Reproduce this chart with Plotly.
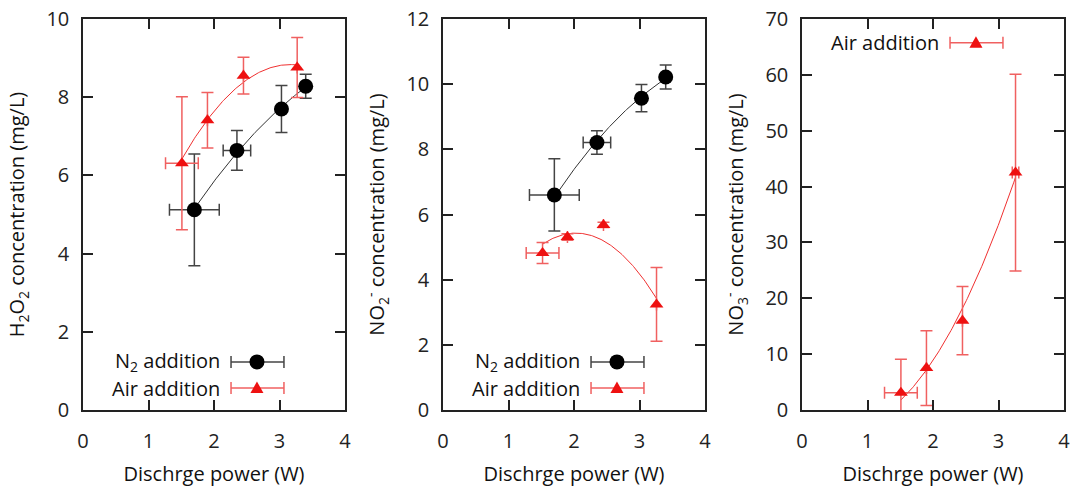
import numpy as np
import plotly.graph_objects as go

# ---------------- data ----------------
# Panel 1: H2O2
h2o2_n2_x = [1.70, 2.35, 3.03, 3.40]
h2o2_n2_xerr = [0.38, 0.21, 0.0, 0.0]
h2o2_n2_y = [5.12, 6.64, 7.70, 8.28]
h2o2_n2_yerr = [1.43, 0.51, 0.60, 0.31]

h2o2_air_x = [1.51, 1.90, 2.45, 3.27]
h2o2_air_xerr = [0.25, 0.0, 0.0, 0.0]
h2o2_air_y = [6.31, 7.41, 8.55, 8.76]
h2o2_air_yerr = [1.70, 0.71, 0.47, 0.77]

# Panel 2: NO2-
no2_n2_x = [1.70, 2.35, 3.03, 3.40]
no2_n2_xerr = [0.38, 0.21, 0.0, 0.0]
no2_n2_y = [6.60, 8.21, 9.57, 10.22]
no2_n2_yerr = [1.11, 0.36, 0.42, 0.37]

no2_air_x = [1.52, 1.90, 2.45, 3.26]
no2_air_xerr = [0.25, 0.0, 0.0, 0.0]
no2_air_y = [4.82, 5.31, 5.68, 3.24]
no2_air_yerr = [0.32, 0.10, 0.08, 1.13]

# Panel 3: NO3-
no3_air_x = [1.51, 1.90, 2.45, 3.26]
no3_air_xerr = [0.25, 0.0, 0.0, 0.05]
no3_air_y = [3.1, 7.5, 16.0, 42.5]
no3_air_yerr = [6.0, 6.7, 6.1, 17.6]

x_ticks = [0, 1, 2, 3, 4]
y_ranges = [[0, 10], [0, 12], [0, 70]]
y_dticks = [2, 2, 10]
y_titles = ["H<sub>2</sub>O<sub>2</sub> concentration (mg/L)",
            "NO<sub>2</sub><sup>-</sup> concentration (mg/L)",
            "NO<sub>3</sub><sup>-</sup> concentration (mg/L)"]
x_title = "Dischrge power (W)"
leg_n2 = "N<sub>2</sub> addition"
leg_air = "Air addition"

# ---------------- style ----------------
BLACK = "#000000"
BLACK_ERR = "#444444"
RED = "#ee1111"
RED_ERR = "#f06060"
RED_LINE = "#f03030"
FONT = "Open Sans"
FS = 20

W, H = 1072, 488
x_doms = [[83 / W, 345 / W], [443 / W, 705 / W], [802 / W, 1064 / W]]
y_dom = [1 - 410 / H, 1 - 19 / H]

fig = go.Figure()


def add_series(xs, xerr, ys, yerr, axn, kind):
    xa = "x" if axn == 1 else f"x{axn}"
    ya = "y" if axn == 1 else f"y{axn}"
    if kind == "n2":
        col, ecol, lcol, sym, size = BLACK, BLACK_ERR, "#333333", "circle", 15
    else:
        col, ecol, lcol, sym, size = RED, RED_ERR, RED_LINE, "triangle-up", 12
    # least-squares fit y = a*x^2 + b*x (through origin)
    xa_ = np.asarray(xs, float)
    A = np.column_stack([xa_ ** 2, xa_])
    coef, *_ = np.linalg.lstsq(A, np.asarray(ys, float), rcond=None)
    fx = np.linspace(min(xs), max(xs), 120)
    fy = coef[0] * fx ** 2 + coef[1] * fx
    fig.add_trace(go.Scatter(x=fx, y=fy, mode="lines", xaxis=xa, yaxis=ya,
                             line=dict(color=lcol, width=1), showlegend=False,
                             hoverinfo="skip"))
    fig.add_trace(go.Scatter(
        x=xs, y=ys, mode="markers", xaxis=xa, yaxis=ya, showlegend=False,
        marker=dict(symbol=sym, size=size, color=col, line=dict(width=0)),
        error_x=dict(type="data", array=xerr, color=ecol, thickness=1.5, width=6),
        error_y=dict(type="data", array=yerr, color=ecol, thickness=1.5, width=6),
    ))


add_series(h2o2_n2_x, h2o2_n2_xerr, h2o2_n2_y, h2o2_n2_yerr, 1, "n2")
add_series(h2o2_air_x, h2o2_air_xerr, h2o2_air_y, h2o2_air_yerr, 1, "air")
add_series(no2_n2_x, no2_n2_xerr, no2_n2_y, no2_n2_yerr, 2, "n2")
add_series(no2_air_x, no2_air_xerr, no2_air_y, no2_air_yerr, 2, "air")
add_series(no3_air_x, no3_air_xerr, no3_air_y, no3_air_yerr, 3, "air")

shapes = []
annotations = []


def legend_entry(axn, ypos, kind, label):
    xr = "x domain" if axn == 1 else f"x{axn} domain"
    yr = "y domain" if axn == 1 else f"y{axn} domain"
    ecol = BLACK_ERR if kind == "n2" else RED_ERR
    x0, x1, xm = 0.565, 0.767, 0.664
    shapes.append(dict(type="line", xref=xr, yref=yr, x0=x0, x1=x1, y0=ypos, y1=ypos,
                       line=dict(color=ecol, width=1.5)))
    for xx in (x0, x1):
        shapes.append(dict(type="line", xref=xr, yref=yr, xsizemode="pixel",
                           ysizemode="pixel", xanchor=xx, yanchor=ypos,
                           x0=0, x1=0, y0=-6, y1=6, line=dict(color=ecol, width=1.5)))
    if kind == "n2":
        shapes.append(dict(type="circle", xref=xr, yref=yr, xsizemode="pixel",
                           ysizemode="pixel", xanchor=xm, yanchor=ypos,
                           x0=-7.5, x1=7.5, y0=-7.5, y1=7.5,
                           fillcolor=BLACK, line=dict(width=0)))
    else:
        shapes.append(dict(type="path", xref=xr, yref=yr, xsizemode="pixel",
                           ysizemode="pixel", xanchor=xm, yanchor=ypos,
                           path="M -6.5 -5 L 6.5 -5 L 0 6.5 Z",
                           fillcolor=RED, line=dict(width=0)))
    annotations.append(dict(xref=xr, yref=yr, x=0.53, y=ypos, text=label,
                            showarrow=False, xanchor="right", yanchor="middle",
                            font=dict(family=FONT, size=FS, color="#111111")))


legend_entry(1, 0.123, "n2", leg_n2)
legend_entry(1, 0.056, "air", leg_air)
legend_entry(2, 0.123, "n2", leg_n2)
legend_entry(2, 0.056, "air", leg_air)
legend_entry(3, 0.939, "air", leg_air)

layout = dict(
    width=W, height=H,
    margin=dict(l=0, r=0, t=0, b=0),
    paper_bgcolor="white", plot_bgcolor="white",
    font=dict(family=FONT, size=FS, color="#111111"),
    showlegend=False,
    shapes=shapes, annotations=annotations,
)

for i in range(3):
    n = "" if i == 0 else str(i + 1)
    layout[f"xaxis{n}"] = dict(
        domain=x_doms[i], anchor=f"y{n}", range=[0, 4], tickvals=x_ticks,
        showgrid=False, zeroline=False, showline=True, linecolor="#222222",
        linewidth=1.5, mirror="ticks", ticks="inside", ticklen=10, tickwidth=1.5,
        tickcolor="#222222", ticklabelstandoff=12, automargin=False,
        tickfont=dict(family=FONT, size=FS, color="#222222"),
        title=dict(text=x_title, standoff=14, font=dict(family=FONT, size=FS, color="#111111")),
    )
    layout[f"yaxis{n}"] = dict(
        domain=y_dom, anchor=f"x{n}", range=y_ranges[i], dtick=y_dticks[i],
        showgrid=False, zeroline=False, showline=True, linecolor="#222222",
        linewidth=1.5, mirror="ticks", ticks="inside", ticklen=10, tickwidth=1.5,
        tickcolor="#222222", ticklabelstandoff=8, automargin=False,
        tickfont=dict(family=FONT, size=FS, color="#222222"),
        title=dict(text=y_titles[i], standoff=16, font=dict(family=FONT, size=FS, color="#111111")),
    )

fig.update_layout(**layout)
fig.write_html("out.html")
